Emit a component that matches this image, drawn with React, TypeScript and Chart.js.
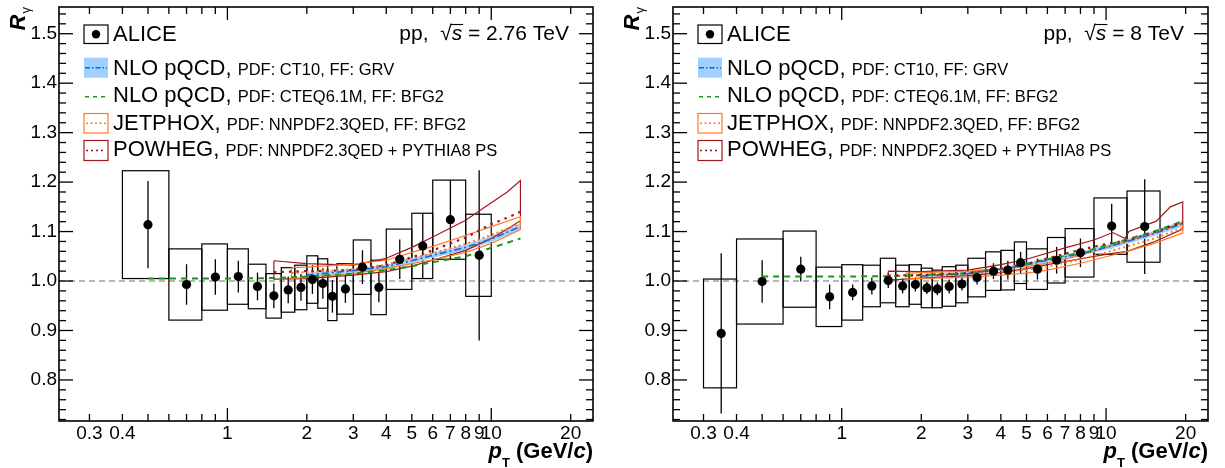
import React, { useEffect, useRef } from "react";
import { Chart, registerables } from "chart.js";
Chart.register(...registerables);

const FONT = "'Liberation Sans', Arial, Helvetica, sans-serif";

// ---------- axis ticks ----------
const xTickValues = [0.3, 0.4, 1, 2, 3, 4, 5, 6, 7, 8, 9, 10, 20];
const xTickLabels = ["0.3", "0.4", "1", "2", "3", "4", "5", "6", "7", "8", "9", "10", "20"];
const yTickValues = [0.8, 0.9, 1.0, 1.1, 1.2, 1.3, 1.4, 1.5];
const yTickLabels = ["0.8", "0.9", "1.0", "1.1", "1.2", "1.3", "1.4", "1.5"];

// ---------- pp, sqrt(s) = 2.76 TeV : ALICE ----------
const pt276 = [0.5, 0.7, 0.9, 1.1, 1.3, 1.5, 1.7, 1.9, 2.1, 2.3, 2.5, 2.8, 3.25, 3.75, 4.5, 5.5, 7.0, 9.0];
const binLo276 = [0.4, 0.6, 0.8, 1.0, 1.2, 1.4, 1.6, 1.8, 2.0, 2.2, 2.4, 2.6, 3.0, 3.5, 4.0, 5.0, 6.0, 8.0];
const binHi276 = [0.6, 0.8, 1.0, 1.2, 1.4, 1.6, 1.8, 2.0, 2.2, 2.4, 2.6, 3.0, 3.5, 4.0, 5.0, 6.0, 8.0, 10.0];
const r276 = [1.114, 0.993, 1.008, 1.009, 0.989, 0.970, 0.982, 0.987, 1.003, 0.995, 0.969, 0.984, 1.028, 0.987, 1.044, 1.071, 1.124, 1.052];
const stat276 = [0.088, 0.041, 0.036, 0.032, 0.028, 0.025, 0.027, 0.027, 0.029, 0.031, 0.033, 0.028, 0.034, 0.030, 0.040, 0.066, 0.080, 0.172];
const sys276 = [0.109, 0.072, 0.067, 0.056, 0.045, 0.045, 0.045, 0.045, 0.048, 0.050, 0.049, 0.051, 0.055, 0.055, 0.061, 0.066, 0.080, 0.083];

// theory 2.76 TeV
const cteqPt276 = [0.5, 1, 1.5, 2, 3, 4, 5, 6, 8, 10, 12.9];
const cteqR276 = [1.005, 1.005, 1.006, 1.009, 1.015, 1.022, 1.030, 1.038, 1.050, 1.067, 1.086];
const ct10Pt276 = [2, 3, 4, 5, 6, 8, 10, 12.9];
const ct10R276 = [1.012, 1.021, 1.029, 1.041, 1.052, 1.068, 1.085, 1.110];
const ct10Err276 = [0.004, 0.004, 0.004, 0.005, 0.005, 0.006, 0.006, 0.007];
const jetPt276 = [1.75, 2, 3, 4, 5, 6, 8, 10, 12.9];
const jetHi276 = [1.027, 1.028, 1.034, 1.042, 1.058, 1.070, 1.092, 1.110, 1.130];
const jetLo276 = [1.005, 1.008, 1.015, 1.025, 1.035, 1.043, 1.058, 1.076, 1.104];
const jetC276 = [1.016, 1.018, 1.024, 1.033, 1.046, 1.056, 1.075, 1.093, 1.117];
const powPt276 = [1.5, 2, 3, 4, 5, 6, 8, 10, 11.5, 12.9];
const powHi276 = [1.041, 1.035, 1.032, 1.046, 1.068, 1.089, 1.123, 1.158, 1.180, 1.203];
const powLo276 = [1.004, 1.005, 1.012, 1.019, 1.030, 1.042, 1.062, 1.086, 1.105, 1.122];
const powC276 = [1.018, 1.020, 1.022, 1.032, 1.048, 1.062, 1.088, 1.115, 1.128, 1.140];

// ---------- pp, sqrt(s) = 8 TeV : ALICE ----------
const pt8 = [0.35, 0.5, 0.7, 0.9, 1.1, 1.3, 1.5, 1.7, 1.9, 2.1, 2.3, 2.55, 2.85, 3.25, 3.75, 4.25, 4.75, 5.5, 6.5, 8.0, 10.5, 14.0];
const binLo8 = [0.3, 0.4, 0.6, 0.8, 1.0, 1.2, 1.4, 1.6, 1.8, 2.0, 2.2, 2.4, 2.7, 3.0, 3.5, 4.0, 4.5, 5.0, 6.0, 7.0, 9.0, 12.0];
const binHi8 = [0.4, 0.6, 0.8, 1.0, 1.2, 1.4, 1.6, 1.8, 2.0, 2.2, 2.4, 2.7, 3.0, 3.5, 4.0, 4.5, 5.0, 6.0, 7.0, 9.0, 12.0, 16.0];
const r8 = [0.894, 0.999, 1.024, 0.968, 0.977, 0.990, 1.001, 0.990, 0.993, 0.986, 0.984, 0.989, 0.994, 1.007, 1.020, 1.022, 1.037, 1.024, 1.042, 1.057, 1.111, 1.110];
const stat8 = [0.162, 0.043, 0.025, 0.025, 0.016, 0.017, 0.015, 0.015, 0.014, 0.012, 0.013, 0.014, 0.013, 0.014, 0.016, 0.019, 0.022, 0.021, 0.027, 0.029, 0.045, 0.096];
const sys8 = [0.110, 0.086, 0.077, 0.060, 0.056, 0.042, 0.045, 0.042, 0.040, 0.040, 0.038, 0.040, 0.038, 0.039, 0.039, 0.040, 0.042, 0.041, 0.046, 0.049, 0.057, 0.072];

// theory 8 TeV
const cteqPt8 = [0.5, 1, 1.5, 2, 3, 4, 5, 6, 8, 10, 12, 15, 19.5];
const cteqR8 = [1.009, 1.009, 1.010, 1.012, 1.016, 1.025, 1.035, 1.044, 1.057, 1.072, 1.084, 1.099, 1.121];
const ct10Pt8 = [2, 3, 4, 5, 6, 8, 10, 12, 15, 19.5];
const ct10R8 = [1.010, 1.015, 1.024, 1.033, 1.042, 1.055, 1.068, 1.080, 1.095, 1.116];
const ct10Err8 = [0.003, 0.003, 0.003, 0.004, 0.004, 0.004, 0.005, 0.005, 0.005, 0.006];
const jetPt8 = [1.75, 2, 3, 4, 5, 6, 8, 10, 12, 15, 19.5];
const jetHi8 = [1.016, 1.017, 1.020, 1.025, 1.029, 1.036, 1.052, 1.068, 1.080, 1.096, 1.118];
const jetLo8 = [1.004, 1.005, 1.008, 1.012, 1.016, 1.022, 1.036, 1.049, 1.060, 1.075, 1.097];
const jetC8 = [1.010, 1.011, 1.014, 1.019, 1.023, 1.029, 1.044, 1.058, 1.070, 1.085, 1.107];
const powHiPt8 = [1.5, 2, 3, 4, 5, 7.1, 9, 10.6, 11.8, 12.2, 15.5, 17.5, 19.5];
const powHi8 = [1.020, 1.019, 1.022, 1.033, 1.044, 1.068, 1.083, 1.098, 1.086, 1.100, 1.121, 1.150, 1.160];
const powLoPt8 = [1.5, 2, 3, 4, 5, 6, 8, 10, 12, 15, 19.5];
const powLo8 = [1.002, 1.006, 1.011, 1.017, 1.025, 1.033, 1.045, 1.054, 1.060, 1.078, 1.105];
const powC8 = [1.011, 1.012, 1.016, 1.025, 1.034, 1.046, 1.063, 1.075, 1.082, 1.098, 1.118];

// ---------- legend text ----------
const legendBig = ["ALICE", "NLO pQCD,", "NLO pQCD,", "JETPHOX,", "POWHEG,"];
const legendSmall = ["", "PDF: CT10, FF: GRV", "PDF: CTEQ6.1M, FF: BFG2", "PDF: NNPDF2.3QED, FF: BFG2", "PDF: NNPDF2.3QED + PYTHIA8 PS"];

const C_BAND = "#9fd0ff";
const C_BLUE = "#1668c8";
const C_GREEN = "#17991a";
const C_ORANGE = "#ff7a26";
const C_RED = "#a0181c";

type Panel = {
  energy: string;
  pt: number[]; r: number[]; stat: number[]; sys: number[]; lo: number[]; hi: number[];
  cteqPt: number[]; cteqR: number[];
  ct10Pt: number[]; ct10R: number[]; ct10Err: number[];
  jetPt: number[]; jetHi: number[]; jetLo: number[]; jetC: number[];
  powHiPt: number[]; powHi: number[]; powLoPt: number[]; powLo: number[]; powC: number[];
};

const panel276: Panel = {
  energy: "2.76", pt: pt276, r: r276, stat: stat276, sys: sys276, lo: binLo276, hi: binHi276,
  cteqPt: cteqPt276, cteqR: cteqR276, ct10Pt: ct10Pt276, ct10R: ct10R276, ct10Err: ct10Err276,
  jetPt: jetPt276, jetHi: jetHi276, jetLo: jetLo276, jetC: jetC276,
  powHiPt: powPt276, powHi: powHi276, powLoPt: powPt276, powLo: powLo276, powC: powC276,
};
const panel8: Panel = {
  energy: "8", pt: pt8, r: r8, stat: stat8, sys: sys8, lo: binLo8, hi: binHi8,
  cteqPt: cteqPt8, cteqR: cteqR8, ct10Pt: ct10Pt8, ct10R: ct10R8, ct10Err: ct10Err8,
  jetPt: jetPt8, jetHi: jetHi8, jetLo: jetLo8, jetC: jetC8,
  powHiPt: powHiPt8, powHi: powHi8, powLoPt: powLoPt8, powLo: powLo8, powC: powC8,
};

const pts = (xa: number[], ya: number[]) => xa.map((x, i) => ({ x, y: ya[i] }));
const polygon = (xu: number[], yu: number[], xl: number[], yl: number[]) => [
  ...pts(xu, yu),
  ...pts(xl, yl).reverse(),
  { x: xu[0], y: yu[0] },
];

function line(ctx: CanvasRenderingContext2D, x0: number, y0: number, x1: number, y1: number) {
  ctx.beginPath();
  ctx.moveTo(x0, y0);
  ctx.lineTo(x1, y1);
  ctx.stroke();
}

function drawParts(ctx: CanvasRenderingContext2D, parts: [string, string, number][], right: number, baseline: number) {
  let total = 0;
  for (const [t, f] of parts) { ctx.font = f; total += ctx.measureText(t).width; }
  let x = right - total;
  const pos: number[] = [];
  for (const [t, f, dy] of parts) {
    ctx.font = f;
    pos.push(x);
    ctx.fillText(t, x, baseline + dy);
    x += ctx.measureText(t).width;
  }
  return pos;
}

function makeChart(canvas: HTMLCanvasElement, p: Panel, yAxisWidth: number, padRight: number) {
  const deco = {
    id: "deco" + p.energy.replace(".", ""),
    beforeDatasetsDraw(chart: any) {
      const { ctx, chartArea: a, scales } = chart;
      const x = scales.x, y = scales.y;
      ctx.save();
      ctx.beginPath();
      ctx.rect(a.left, a.top, a.right - a.left, a.bottom - a.top);
      ctx.clip();
      // dashed line at unity
      ctx.strokeStyle = "#a0a0a0";
      ctx.lineWidth = 1.5;
      ctx.setLineDash([6, 4]);
      const y1 = y.getPixelForValue(1.0);
      line(ctx, a.left, y1, a.right, y1);
      ctx.setLineDash([]);
      // systematic boxes
      ctx.strokeStyle = "#000";
      ctx.lineWidth = 1.2;
      for (let i = 0; i < p.pt.length; i++) {
        const x0 = x.getPixelForValue(p.lo[i]);
        const x1 = x.getPixelForValue(p.hi[i]);
        const yt = y.getPixelForValue(p.r[i] + p.sys[i]);
        const yb = y.getPixelForValue(p.r[i] - p.sys[i]);
        ctx.strokeRect(x0, yt, x1 - x0, yb - yt);
      }
      // statistical error bars
      ctx.lineWidth = 1.3;
      for (let i = 0; i < p.pt.length; i++) {
        const px = x.getPixelForValue(p.pt[i]);
        line(ctx, px, y.getPixelForValue(p.r[i] + p.stat[i]), px, y.getPixelForValue(p.r[i] - p.stat[i]));
      }
      ctx.restore();
    },
    afterDraw(chart: any) {
      const { ctx, chartArea: a, scales } = chart;
      const x = scales.x, y = scales.y;
      ctx.save();
      // frame
      ctx.strokeStyle = "#000";
      ctx.lineWidth = 1.6;
      ctx.strokeRect(a.left, a.top, a.right - a.left, a.bottom - a.top);
      // y ticks
      ctx.lineWidth = 1.3;
      for (let k = 36; k <= 77; k++) {
        const v = k * 0.02;
        const py = y.getPixelForValue(v);
        if (py < a.top || py > a.bottom) continue;
        const len = k % 5 === 0 ? 14 : 7;
        line(ctx, a.left, py, a.left + len, py);
        line(ctx, a.right - len, py, a.right, py);
      }
      // x ticks
      for (const dec of [0.1, 1, 10]) {
        for (let m = 1; m <= 9; m++) {
          const v = m * dec;
          if (v < x.min || v > x.max) continue;
          const px = x.getPixelForValue(v);
          const len = m === 1 ? 13 : 7;
          line(ctx, px, a.bottom, px, a.bottom - len);
          line(ctx, px, a.top, px, a.top + len);
        }
      }
      // legend
      ctx.fillStyle = "#000";
      ctx.textBaseline = "alphabetic";
      ctx.textAlign = "left";
      const L = a.left + 25, W = 24;
      const TX = a.left + 54;
      const base = [41, 75, 101.5, 129.5, 156];
      // ALICE symbol
      ctx.strokeStyle = "#000";
      ctx.lineWidth = 1.2;
      ctx.strokeRect(L, 25, W, 18.5);
      ctx.beginPath();
      ctx.arc(L + W / 2, 34.2, 4.2, 0, Math.PI * 2);
      ctx.fill();
      // CT10 band
      ctx.fillStyle = C_BAND;
      ctx.fillRect(L, 57.7, W, 20);
      ctx.strokeStyle = C_BLUE;
      ctx.lineWidth = 1.5;
      ctx.setLineDash([5, 2, 1.5, 2]);
      line(ctx, L + 1, 67.7, L + W - 1, 67.7);
      // CTEQ dashed
      ctx.strokeStyle = C_GREEN;
      ctx.setLineDash([4, 4]);
      line(ctx, L + 1, 96.7, L + W, 96.7);
      // JETPHOX
      ctx.setLineDash([]);
      ctx.strokeStyle = C_ORANGE;
      ctx.lineWidth = 1.2;
      ctx.strokeRect(L, 113.5, W, 19.5);
      ctx.setLineDash([2, 2.5]);
      ctx.lineWidth = 1.5;
      line(ctx, L + 2, 123.2, L + W - 2, 123.2);
      // POWHEG
      ctx.setLineDash([]);
      ctx.strokeStyle = C_RED;
      ctx.lineWidth = 1.2;
      ctx.strokeRect(L, 140.5, W, 20);
      ctx.setLineDash([2, 3]);
      ctx.lineWidth = 1.6;
      line(ctx, L + 2, 150.5, L + W - 2, 150.5);
      ctx.setLineDash([]);
      // legend texts
      ctx.fillStyle = "#000";
      for (let i = 0; i < legendBig.length; i++) {
        ctx.font = `22px ${FONT}`;
        ctx.fillText(legendBig[i], TX, base[i]);
        if (legendSmall[i]) {
          const w = ctx.measureText(legendBig[i] + " ").width;
          ctx.font = `16.5px ${FONT}`;
          ctx.fillText(legendSmall[i], TX + w, base[i]);
        }
      }
      // sqrt(s) label
      const f = `21px ${FONT}`, fi = `italic 21px ${FONT}`;
      const pos = drawParts(ctx, [["pp,  ", f, 0], ["\u221A", f, 0], ["s", fi, 0], [` = ${p.energy} TeV`, f, 0]], a.right - 24, 40);
      ctx.font = fi;
      const sw = ctx.measureText("s").width;
      ctx.strokeStyle = "#000";
      ctx.lineWidth = 1.1;
      line(ctx, pos[2] - 1, 24.5, pos[2] + sw + 1, 24.5);
      // x title
      const b = `bold 22px ${FONT}`, bi = `bold italic 22px ${FONT}`, sb = `bold 13px ${FONT}`;
      drawParts(ctx, [["p", bi, 0], ["T", sb, 9], [" (GeV/", b, 0], ["c", bi, 0], [")", b, 0]], a.right, 458);
      // y title
      ctx.save();
      ctx.translate(a.left - 34, 30.5);
      ctx.rotate(-Math.PI / 2);
      ctx.font = bi;
      ctx.fillText("R", 0, 0);
      const rw = ctx.measureText("R").width;
      ctx.font = `13px ${FONT}`;
      ctx.fillText("\u03B3", rw + 1, 5);
      ctx.restore();
      ctx.restore();
    },
  };

  const lineDs = (data: any[], color: string, width: number, dash: number[], order: number) => ({
    data, borderColor: color, borderWidth: width, borderDash: dash, pointRadius: 0, fill: false, order, tension: 0,
  });

  const ct10Lo = p.ct10R.map((v, i) => v - p.ct10Err[i]);
  const ct10Hi = p.ct10R.map((v, i) => v + p.ct10Err[i]);

  const datasets: any[] = [
    { data: pts(p.pt, p.r), showLine: false, pointRadius: 4.6, pointBackgroundColor: "#000", pointBorderColor: "#000", pointBorderWidth: 0, order: 0 },
    { data: pts(p.ct10Pt, ct10Lo), borderColor: "rgba(0,0,0,0)", borderWidth: 0, pointRadius: 0, fill: false, order: 9 },
    { data: pts(p.ct10Pt, ct10Hi), borderColor: "rgba(0,0,0,0)", borderWidth: 0, pointRadius: 0, fill: "-1", backgroundColor: C_BAND, order: 8 },
    lineDs(pts(p.ct10Pt, p.ct10R), C_BLUE, 1.6, [7, 3, 2, 3], 4),
    lineDs(pts(p.cteqPt, p.cteqR), C_GREEN, 2, [6, 5], 3),
    lineDs(polygon(p.jetPt, p.jetHi, p.jetPt, p.jetLo), C_ORANGE, 1.2, [], 6),
    lineDs(pts(p.jetPt, p.jetC), C_ORANGE, 2, [2, 3], 5),
    lineDs(polygon(p.powHiPt, p.powHi, p.powLoPt, p.powLo), C_RED, 1.2, [], 7),
    lineDs(pts(p.powLoPt, p.powC), C_RED, 2.2, [2.5, 5], 2),
  ];

  return new Chart(canvas, {
    type: "line",
    data: { datasets },
    options: {
      responsive: false,
      animation: false,
      events: [],
      layout: { padding: { left: 0, right: padRight, top: 7, bottom: 0 } },
      plugins: { legend: { display: false }, tooltip: { enabled: false } },
      scales: {
        x: {
          type: "logarithmic",
          min: 0.23,
          max: 24.3,
          bounds: "data",
          grid: { display: false, drawTicks: false },
          border: { display: false },
          afterBuildTicks: (s: any) => { s.ticks = xTickValues.map((v) => ({ value: v })); },
          afterFit: (s: any) => { s.height = 47; s.paddingLeft = 0; s.paddingRight = 0; },
          ticks: {
            autoSkip: false, maxRotation: 0, minRotation: 0, padding: 1, color: "#000",
            font: { family: FONT, size: 19 },
            callback: (_v: any, i: number) => xTickLabels[i],
          },
        },
        y: {
          type: "linear",
          min: 0.717,
          max: 1.554,
          bounds: "data",
          grid: { display: false, drawTicks: false },
          border: { display: false },
          afterBuildTicks: (s: any) => { s.ticks = yTickValues.map((v) => ({ value: v })); },
          afterFit: (s: any) => { s.width = yAxisWidth; s.paddingTop = 0; s.paddingBottom = 0; },
          ticks: {
            padding: 2, color: "#000",
            font: { family: FONT, size: 19 },
            callback: (_v: any, i: number) => yTickLabels[i],
          },
        },
      },
    } as any,
    plugins: [deco as any],
  });
}

export default function App() {
  const leftRef = useRef<HTMLCanvasElement>(null);
  const rightRef = useRef<HTMLCanvasElement>(null);
  useEffect(() => {
    const c1 = makeChart(leftRef.current!, panel276, 59, 19);
    const c2 = makeChart(rightRef.current!, panel8, 61, 17);
    return () => { c1.destroy(); c2.destroy(); };
  }, []);
  return (
    <div style={{ position: "absolute", left: 0, top: 0, width: 1225, height: 468, background: "#fff", overflow: "hidden" }}>
      <canvas ref={leftRef} width={612} height={468} style={{ position: "absolute", left: 0, top: 0, width: 612, height: 468 }} />
      <canvas ref={rightRef} width={613} height={468} style={{ position: "absolute", left: 612, top: 0, width: 613, height: 468 }} />
    </div>
  );
}
